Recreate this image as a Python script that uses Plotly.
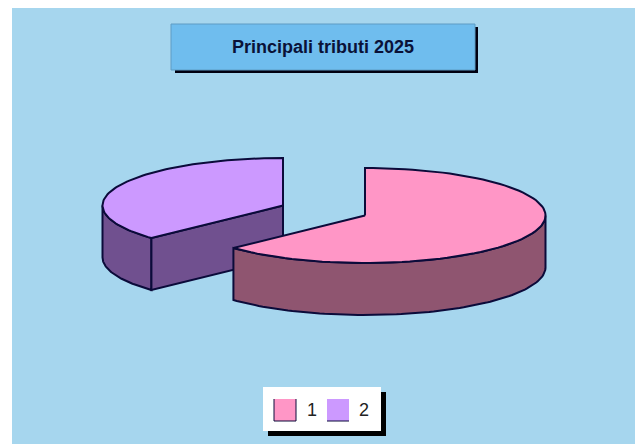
import numpy as np
import plotly.graph_objects as go

categories = ["1", "2"]
values = [63, 37]
title_text = "Principali tributi 2025"

W, H = 635, 444
BG = "#A6D6EE"
INK = "#0B0B3A"
TOP = {"1": "#FF96C6", "2": "#CC99FF"}
SIDE = {"1": "#8F5570", "2": "#70508F"}
RX, RY, DEPTH = 180.5, 47.5, 52
CENTER = {"1": (365, 215.5), "2": (283, 205.5)}

split = 360 * values[0] / sum(values)


def pt(cat, deg, dz=0):
    """Angle clockwise from 12 o'clock, projected on the tilted ellipse."""
    cx, cy = CENTER[cat]
    t = np.radians(deg)
    return cx + RX * np.sin(t), cy - RY * np.cos(t) + dz


def arc(cat, a, b, dz=0):
    d = np.linspace(a, b, 90)
    return pt(cat, d, dz)


def poly(xs, ys, color, name, lw=2):
    return go.Scatter(x=list(xs), y=list(ys), mode="lines", fill="toself", fillcolor=color,
                      line=dict(color=INK, width=lw), name=name, showlegend=False, hoverinfo="name")


fig = go.Figure()

# slice 2 (drawn first: slice 1 overlaps it)
x_a, y_a = arc("2", 270, split)
x_b, y_b = arc("2", split, 270, DEPTH)
fig.add_trace(poly(np.r_[x_a, x_b, x_a[0]], np.r_[y_a, y_b, y_a[0]], SIDE["2"], "2"))
tx, ty = pt("2", split)
cx, cy = CENTER["2"]
fig.add_trace(poly([tx, cx, cx, tx, tx], [ty, cy, cy + DEPTH, ty + DEPTH, ty], SIDE["2"], "2"))
x_t, y_t = arc("2", split, 360)
fig.add_trace(poly(np.r_[cx, x_t, cx], np.r_[cy, y_t, cy], TOP["2"], "2"))

# slice 1
x_a, y_a = arc("1", 90, split)
x_b, y_b = arc("1", split, 90, DEPTH)
fig.add_trace(poly(np.r_[x_a, x_b, x_a[0]], np.r_[y_a, y_b, y_a[0]], SIDE["1"], "1"))
cx, cy = CENTER["1"]
x_t, y_t = arc("1", 0, split)
fig.add_trace(poly(np.r_[cx, x_t, cx], np.r_[cy, y_t, cy], TOP["1"], "1"))


def rect(x0, y0, x1, y1, fill, line=None, lw=1):
    return dict(type="rect", x0=x0, y0=y0, x1=x1, y1=y1, fillcolor=fill, layer="below",
                line=dict(color=line or fill, width=lw if line else 0))


shapes = [
    rect(12, 8, W, H, BG),
    rect(175, 27, 478, 73, "#000010"),
    rect(171, 24, 475, 70, "#6FBDEE", "#5E9CC4", 1),
    rect(268, 392, 386, 436, "#000000"),
    rect(263, 387, 381, 431, "#FFFFFF"),
    rect(274, 399, 296, 421, TOP["1"]),
    rect(327, 399, 349, 421, TOP["2"]),
    dict(type="path", path="M274,399 L274,421 L296,421 L296,399", layer="below",
         line=dict(color=INK, width=1)),
    dict(type="path", path="M327,421 L349,421", layer="below", line=dict(color=INK, width=1)),
]

annotations = [
    dict(x=322.5, y=47, text=f"<b>{title_text}</b>", showarrow=False,
         font=dict(family="Liberation Sans", size=18, color="#0A1238")),
    dict(x=311.5, y=410, text=categories[0], showarrow=False,
         font=dict(family="Liberation Sans", size=18, color="#222222")),
    dict(x=364, y=410, text=categories[1], showarrow=False,
         font=dict(family="Liberation Sans", size=18, color="#222222")),
]

fig.update_layout(
    width=W, height=H, margin=dict(l=0, r=0, t=0, b=0),
    paper_bgcolor="#FFFFFF", plot_bgcolor="rgba(0,0,0,0)", showlegend=False,
    xaxis=dict(range=[0, W], visible=False, fixedrange=True),
    yaxis=dict(range=[H, 0], visible=False, fixedrange=True),
    shapes=shapes, annotations=annotations,
)
fig.write_html("out.html", config=dict(displayModeBar=False),
               post_script="document.body.style.margin='0';document.documentElement.style.overflow='hidden';")
